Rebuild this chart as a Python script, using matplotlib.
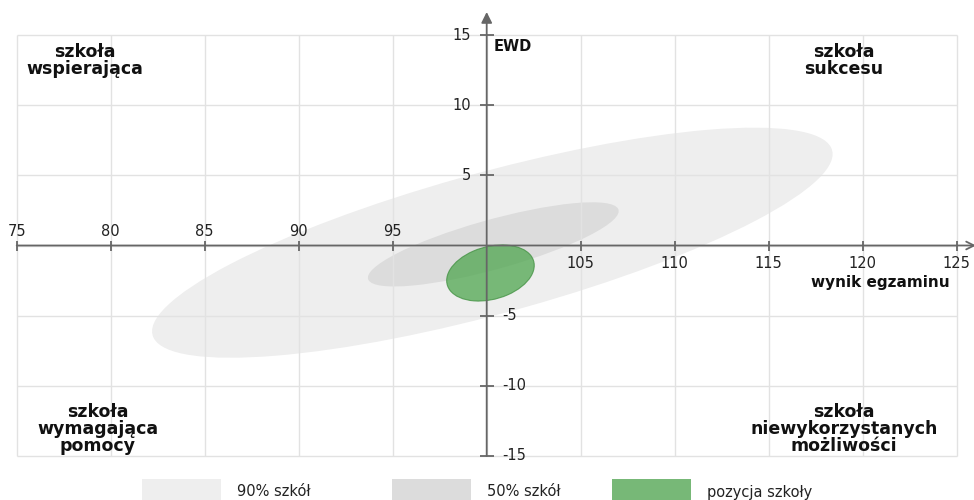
import numpy as np
import matplotlib
matplotlib.use("Agg")
import matplotlib.pyplot as plt
from matplotlib.patches import Ellipse, Rectangle

plt.rcParams["font.family"] = ["DejaVu Sans"]

# ---------------- data ----------------
x_ticks = [75, 80, 85, 90, 95, 100, 105, 110, 115, 120, 125]
y_ticks = [-15, -10, -5, 0, 5, 10, 15]

# ellipses: centre (exam score, EWD), half-extent in x, half-extent in y, correlation
ell_names = ["90% szkół", "50% szkół", "pozycja szkoły"]
ell_cx = [100.3, 100.35, 100.2]
ell_cy = [0.2, 0.08, -1.96]
ell_sx = [18.1, 6.67, 2.33]
ell_sy = [8.2, 3.0, 2.0]
ell_rho = [0.77, 0.79, 0.27]
ell_colors = ["#eeeeee", "#dcdcdc", "#4fa64f"]
ell_alpha = [1.0, 1.0, 0.75]
legend_colors = ["#eeeeee", "#dcdcdc", "#77b877"]

quad_labels = ["szkoła\nwspierająca", "szkoła\nsukcesu",
               "szkoła\nwymagająca\npomocy", "szkoła\nniewykorzystanych\nmożliwości"]
quad_x = [78.6, 119.0, 79.3, 119.0]
quad_y = [14.45, 14.45, -11.2, -11.2]

x_label = "wynik egzaminu"
y_label = "EWD"

# ---------------- layout ----------------
W, H = 974, 500
px_x0, ppu_x = 486.7, 18.8     # pixel of x=100, pixels per unit
px_y0, ppu_y = 245.5, 14.03    # pixel of y=0 (from top), pixels per unit

fig = plt.figure(figsize=(W / 100, H / 100), dpi=100)
ax = fig.add_axes([0, 0, 1, 1])
ax.set_xlim(100 - px_x0 / ppu_x, 100 + (W - px_x0) / ppu_x)
ax.set_ylim(-(H - px_y0) / ppu_y, px_y0 / ppu_y)
ax.axis("off")

axis_col = "#666666"
grid_col = "#e2e2e2"
txt_col = "#222222"

# grid
ax.vlines(x_ticks, y_ticks[0], y_ticks[-1], color=grid_col, lw=1.0, zorder=2)
ax.hlines(y_ticks, x_ticks[0], x_ticks[-1], color=grid_col, lw=1.0, zorder=2)

# ellipses
for i in range(3):
    cov = np.array([[ell_sx[i] ** 2, ell_rho[i] * ell_sx[i] * ell_sy[i]],
                    [ell_rho[i] * ell_sx[i] * ell_sy[i], ell_sy[i] ** 2]])
    vals, vecs = np.linalg.eigh(cov)
    order = vals.argsort()[::-1]
    vals, vecs = vals[order], vecs[:, order]
    ang = np.degrees(np.arctan2(vecs[1, 0], vecs[0, 0]))
    if i < 2:
        e = Ellipse((ell_cx[i], ell_cy[i]), 2 * np.sqrt(vals[0]), 2 * np.sqrt(vals[1]),
                    angle=ang, facecolor=ell_colors[i], edgecolor="none",
                    alpha=ell_alpha[i], zorder=1 + i * 0.1)
    else:
        e = Ellipse((ell_cx[i], ell_cy[i]), 2 * np.sqrt(vals[0]), 2 * np.sqrt(vals[1]),
                    angle=ang, facecolor=ell_colors[i], edgecolor="#3f8f3f", lw=0.8,
                    alpha=ell_alpha[i], zorder=3)
    ax.add_patch(e)

# axes lines with arrows
ax.annotate("", xy=(100 + (W + 2 - px_x0) / ppu_x, 0), xytext=(x_ticks[0], 0),
            arrowprops=dict(arrowstyle="->", color=axis_col, lw=1.3, mutation_scale=14,
                            shrinkA=0, shrinkB=0),
            annotation_clip=False, zorder=4)
ax.annotate("", xy=(100, (px_y0 - 12) / ppu_y), xytext=(100, y_ticks[0]),
            arrowprops=dict(arrowstyle="-|>", color=axis_col, lw=1.3, mutation_scale=16,
                            shrinkA=0, shrinkB=0),
            annotation_clip=False, zorder=4)

# tick marks
xt = [v for v in x_ticks if v != 100]
yt = [v for v in y_ticks if v != 0]
ax.plot(xt, [0] * len(xt), ls="none", marker="|", ms=7.5, mew=1.3, color=axis_col, zorder=4)
ax.plot([100] * len(yt), yt, ls="none", marker="_", ms=9.5, mew=1.3, color=axis_col, zorder=4)

# tick labels
tfs = 10.5
for v in xt:
    if v < 100:
        ax.text(v, 14.5 / ppu_y, str(v), ha="center", va="center", fontsize=tfs, color=txt_col, zorder=5)
    else:
        ax.text(v, -18.5 / ppu_y, str(v), ha="center", va="center", fontsize=tfs, color=txt_col, zorder=5)
for v in yt:
    if v > 0:
        ax.text(100 - 15.5 / ppu_x, v, str(v), ha="right", va="center", fontsize=tfs, color=txt_col, zorder=5)
    else:
        ax.text(100 + 16 / ppu_x, v, str(v), ha="left", va="center", fontsize=tfs, color=txt_col, zorder=5)

# axis labels
ax.text(100 + 7 / ppu_x, 14.15, y_label, ha="left", va="center", fontsize=10.5,
        fontweight="bold", color="#111111", zorder=5)
ax.text(124.63, -2.64, x_label, ha="right", va="center", fontsize=11,
        fontweight="bold", color="#111111", zorder=5)

# quadrant labels
for lab, qx, qy in zip(quad_labels, quad_x, quad_y):
    ax.text(qx, qy, lab, ha="center", va="top", fontsize=12.5, fontweight="bold",
            color="#111111", linespacing=0.95, zorder=5)

# legend (manual)
patch_left = [142, 392, 612]
text_left = [237, 487, 707]
for i in range(3):
    fig.add_artist(Rectangle((patch_left[i] / W, 0), 79 / W, 21 / H,
                             transform=fig.transFigure, facecolor=legend_colors[i],
                             edgecolor="none"))
    fig.text(text_left[i] / W, (H - 496.5) / H, ell_names[i], ha="left", va="baseline",
             fontsize=10.5, color=txt_col)

fig.savefig("out.png", dpi=100)
